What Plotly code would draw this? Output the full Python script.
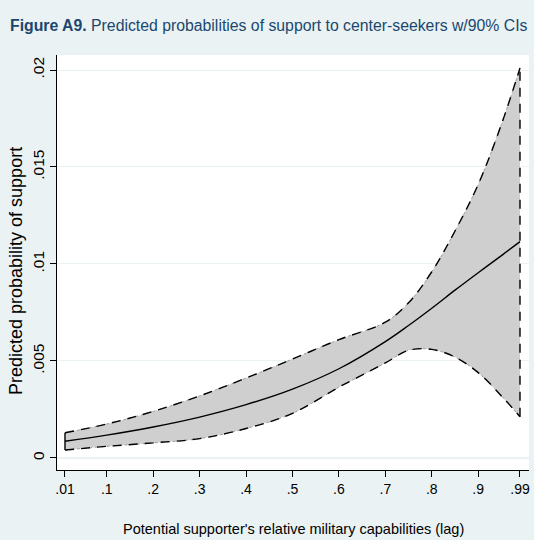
import plotly.graph_objects as go

# Relative military capabilities of the potential supporter (lagged)
capability = [0.01, 0.10, 0.20, 0.30, 0.40, 0.50, 0.60, 0.70, 0.75, 0.80, 0.85, 0.90, 0.95, 0.99]
# Predicted probability of support and the 90% confidence bounds
predicted = [0.00086, 0.00118, 0.00160, 0.00211, 0.00275, 0.00355, 0.00460, 0.00600, 0.00683, 0.00772,
             0.00865, 0.00955, 0.01043, 0.01115]
upper_ci = [0.00130, 0.00175, 0.00240, 0.00320, 0.00412, 0.00510, 0.00610, 0.00700, 0.00800, 0.00960,
            0.01170, 0.01410, 0.01720, 0.02010]
lower_ci = [0.00041, 0.00060, 0.00078, 0.00100, 0.00152, 0.00230, 0.00365, 0.00490, 0.00555, 0.00560,
            0.00520, 0.00440, 0.00320, 0.00213]

x_ticks = [0.01, 0.1, 0.2, 0.3, 0.4, 0.5, 0.6, 0.7, 0.8, 0.9, 0.99]
x_ticklabels = [".01", ".1", ".2", ".3", ".4", ".5", ".6", ".7", ".8", ".9", ".99"]
y_ticks = [0, 0.005, 0.01, 0.015, 0.02]
y_ticklabels = ["0", ".005", ".01", ".015", ".02"]

FONT = "Liberation Sans, Arial, Helvetica, sans-serif"
NAVY = "#1a476f"
BAND = "#cfcfcf"
BG = "#eaf2f3"

fig = go.Figure()

# shaded confidence band
fig.add_trace(go.Scatter(x=capability, y=lower_ci, mode="lines", line=dict(color=BAND, width=0, shape="spline"),
                         hoverinfo="skip", showlegend=False))
fig.add_trace(go.Scatter(x=capability, y=upper_ci, mode="lines", fill="tonexty", fillcolor=BAND,
                         line=dict(color=BAND, width=0, shape="spline"), hoverinfo="skip", showlegend=False))

# faint dotted edge of the band, then the dashed bounds on top
for series in (upper_ci, lower_ci):
    fig.add_trace(go.Scatter(x=capability, y=series, mode="lines",
                             line=dict(color="#9a9a9a", width=1, dash="dot", shape="spline"),
                             hoverinfo="skip", showlegend=False))
    fig.add_trace(go.Scatter(x=capability, y=series, mode="lines",
                             line=dict(color="black", width=1.4, dash="9px,7px", shape="spline"),
                             hoverinfo="skip", showlegend=False))

# vertical closing edges of the band at both ends
fig.add_trace(go.Scatter(x=[capability[0], capability[0]], y=[lower_ci[0], upper_ci[0]], mode="lines",
                         line=dict(color="black", width=1.4), hoverinfo="skip", showlegend=False))
fig.add_trace(go.Scatter(x=[capability[-1], capability[-1]], y=[lower_ci[-1], upper_ci[-1]], mode="lines",
                         line=dict(color="black", width=1.4, dash="9px,7px"), hoverinfo="skip", showlegend=False))

# point estimate
fig.add_trace(go.Scatter(x=capability, y=predicted, mode="lines",
                         line=dict(color="black", width=1.4, shape="spline"), showlegend=False))

# plot area spans 55..470 px vertically and 57..529 px horizontally
fig.update_layout(
    width=534, height=540,
    margin=dict(l=57, r=5, t=55, b=70),
    paper_bgcolor=BG,
    plot_bgcolor="white",
    title=dict(
        text="<b>Figure A9.</b> Predicted probabilities of support to center-seekers w/90% CIs",
        font=dict(family=FONT, size=15.8, color=NAVY),
        xref="container", yref="container", x=10 / 534, xanchor="left", y=1 - 25 / 540, yanchor="middle",
    ),
    xaxis=dict(
        range=[-0.0072, 1.0094], tickvals=x_ticks, ticktext=x_ticklabels,
        ticks="outside", ticklen=6, tickcolor="black", tickwidth=1,
        showline=True, linecolor="black", linewidth=1, showgrid=False, zeroline=False,
        tickfont=dict(family=FONT, size=14, color="black"),
    ),
    yaxis=dict(
        range=[-0.000619, 0.020773], tickvals=y_ticks, ticktext=y_ticklabels, tickangle=-90,
        ticks="outside", ticklen=6, tickcolor="black", tickwidth=1,
        showline=True, linecolor="black", linewidth=1,
        showgrid=True, gridcolor=BG, gridwidth=1, zeroline=True, zerolinecolor=BG,
        tickfont=dict(family=FONT, size=15.5, color="black"),
    ),
    annotations=[
        dict(text="Potential supporter's relative military capabilities (lag)",
             xref="paper", yref="paper", x=0.5, y=0, xanchor="center", yanchor="middle",
             yshift=-59, showarrow=False, font=dict(family=FONT, size=14.5, color="black")),
        dict(text="Predicted probability of support",
             xref="paper", yref="paper", x=0, y=(470 - 271) / 415, xanchor="center", yanchor="middle",
             xshift=-41, textangle=-90, showarrow=False, font=dict(family=FONT, size=18, color="black")),
    ],
)

fig.write_html("out.html")
